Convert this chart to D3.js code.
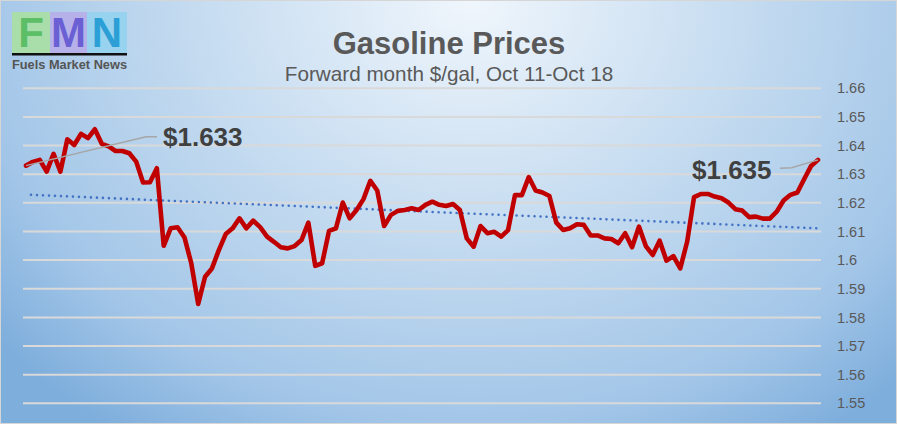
<!DOCTYPE html>
<html>
<head>
<meta charset="utf-8">
<script src="https://cdn.jsdelivr.net/npm/d3@7"></script>
<style>
  html, body { margin: 0; padding: 0; background: #fff; }
  svg { display: block; font-family: "Liberation Sans", Arial, sans-serif; }
</style>
</head>
<body>
<svg id="chart" width="897" height="424"></svg>
<script>
'use strict';

// forward month gasoline, $/gal
const prices = [
    1.633, 1.6343, 1.635, 1.6309, 1.6371, 1.6309, 1.6422, 1.6402, 1.6441, 1.6426,
    1.6457, 1.6406, 1.6397, 1.6381, 1.6381, 1.6373, 1.6344, 1.6271, 1.6272, 1.6321,
    1.605, 1.6111, 1.6115, 1.608, 1.5989, 1.5847, 1.5942, 1.5971, 1.6035, 1.6091,
    1.6111, 1.6146, 1.6111, 1.6138, 1.6115, 1.6082, 1.6064, 1.6045, 1.6041, 1.6049,
    1.607, 1.6131, 1.598, 1.5989, 1.6102, 1.6111, 1.6201, 1.6146, 1.6175, 1.6213,
    1.6277, 1.6243, 1.6119, 1.6158, 1.6172, 1.6175, 1.6181, 1.6175, 1.6193, 1.6204,
    1.6193, 1.6189, 1.6196, 1.6175, 1.6076, 1.6047, 1.6119, 1.6094, 1.6099, 1.6082,
    1.6105, 1.6227, 1.6227, 1.629, 1.6243, 1.6236, 1.6224, 1.6131, 1.6105, 1.6111,
    1.6125, 1.6123, 1.6086, 1.6086, 1.6076, 1.6074, 1.6059, 1.6094, 1.6045, 1.6117,
    1.6049, 1.6018, 1.6068, 1.5998, 1.6014, 1.5971, 1.6064, 1.622, 1.6231, 1.6231,
    1.6222, 1.6216, 1.6201, 1.6178, 1.6173, 1.615, 1.6152, 1.6145, 1.6145, 1.6169,
    1.6208, 1.6228, 1.6236, 1.6283, 1.6329, 1.635
];

// linear trendline, start and end values
const trendValues = [1.6228, 1.6111];

const yTicks = [1.55, 1.56, 1.57, 1.58, 1.59, 1.6, 1.61, 1.62, 1.63, 1.64, 1.65, 1.66];
const yTickLabels = ['1.55', '1.56', '1.57', '1.58', '1.59', '1.6', '1.61', '1.62', '1.63', '1.64', '1.65', '1.66'];

const endLabels = ['$1.633', '$1.635'];

const titleText = 'Gasoline Prices';
const subtitleText = 'Forward month $/gal, Oct 11-Oct 18';

const width = 897, height = 424;
const svg = d3.select('#chart');

// background gradient
const defs = svg.append('defs');
const grad = defs.append('radialGradient')
    .attr('id', 'bg')
    .attr('gradientUnits', 'userSpaceOnUse')
    .attr('cx', 470).attr('cy', 0)
    .attr('r', 620)
    .attr('gradientTransform', 'translate(470,0) scale(1,0.85) translate(-470,0)');
grad.append('stop').attr('offset', '0%').attr('stop-color', '#f0f6fc');
grad.append('stop').attr('offset', '45%').attr('stop-color', '#c4dbf0');
grad.append('stop').attr('offset', '80%').attr('stop-color', '#a3c6e8');
grad.append('stop').attr('offset', '100%').attr('stop-color', '#7eaedc');

svg.append('rect')
    .attr('x', 0.5).attr('y', 0.5)
    .attr('width', width - 1).attr('height', height - 1)
    .attr('fill', 'url(#bg)')
    .attr('stroke', '#d6d6d6');

// scales
const x = d3.scaleLinear().domain([0, prices.length - 1]).range([26, 818]);
const y = d3.scaleLinear().domain([1.55, 1.66]).range([403.3, 88.3]);

// gridlines
svg.append('g')
    .selectAll('line')
    .data(yTicks)
    .join('line')
    .attr('x1', 23).attr('x2', 821)
    .attr('y1', d => y(d)).attr('y2', d => y(d))
    .attr('stroke', '#d9d9d9')
    .attr('stroke-width', 2);

// right axis labels
const axis = d3.axisRight(y)
    .tickValues(yTicks)
    .tickFormat((d, i) => yTickLabels[i])
    .tickSize(0)
    .tickPadding(0);
const axisG = svg.append('g')
    .attr('transform', 'translate(837,0)')
    .call(axis);
axisG.select('.domain').remove();
axisG.selectAll('text')
    .attr('fill', '#595959')
    .style('font-size', '14.5px')
    .style('font-family', '"Liberation Sans", Arial, sans-serif');

// trendline
svg.append('line')
    .attr('x1', x(0) + 5).attr('x2', x(prices.length - 1))
    .attr('y1', y(trendValues[0])).attr('y2', y(trendValues[1]))
    .attr('stroke', '#4472c4')
    .attr('stroke-width', 2.6)
    .attr('stroke-linecap', 'round')
    .attr('stroke-dasharray', '0 6');

// price line
const line = d3.line()
    .x((d, i) => x(i))
    .y(d => y(d));

svg.append('path')
    .datum(prices)
    .attr('d', line)
    .attr('fill', 'none')
    .attr('stroke', '#c00000')
    .attr('stroke-width', 4.6)
    .attr('stroke-linejoin', 'round')
    .attr('stroke-linecap', 'round');

// data labels with leader lines
const last = prices.length - 1;
const leaderColor = '#a6a6a6';

svg.append('path')
    .attr('d', d3.line()([[x(0), y(prices[0])], [146, 136.7], [157, 136.7]]))
    .attr('fill', 'none')
    .attr('stroke', leaderColor)
    .attr('stroke-width', 1.5);

svg.append('path')
    .attr('d', d3.line()([[780, 168.3], [791.7, 167.7], [x(last), y(prices[last])]]))
    .attr('fill', 'none')
    .attr('stroke', leaderColor)
    .attr('stroke-width', 1.5);

svg.append('text')
    .attr('x', 163).attr('y', 146)
    .attr('fill', '#404040')
    .style('font-size', '26px')
    .style('font-weight', 'bold')
    .text(endLabels[0]);

svg.append('text')
    .attr('x', 692).attr('y', 179)
    .attr('fill', '#404040')
    .style('font-size', '26px')
    .style('font-weight', 'bold')
    .text(endLabels[1]);

// titles
svg.append('text')
    .attr('x', 449).attr('y', 54)
    .attr('text-anchor', 'middle')
    .attr('fill', '#595959')
    .style('font-size', '31px')
    .style('font-weight', 'bold')
    .text(titleText);

svg.append('text')
    .attr('x', 449).attr('y', 81)
    .attr('text-anchor', 'middle')
    .attr('fill', '#595959')
    .style('font-size', '20.7px')
    .text(subtitleText);

// FMN logo
const logo = svg.append('g').attr('transform', 'translate(12,12)');
const blocks = [
    {letter: 'F', bg: '#a9deaa', fg: '#5cbf68', x: 0, w: 38},
    {letter: 'M', bg: '#b7b1ea', fg: '#6b5fd4', x: 38, w: 37},
    {letter: 'N', bg: '#97d3ef', fg: '#2b9fd6', x: 75, w: 40}
];
blocks.forEach((b) => {
    logo.append('rect')
        .attr('x', b.x).attr('y', 0)
        .attr('width', b.w).attr('height', 41)
        .attr('fill', b.bg);
    logo.append('text')
        .attr('x', b.x + b.w / 2).attr('y', 35)
        .attr('text-anchor', 'middle')
        .attr('fill', b.fg)
        .style('font-size', '42px')
        .style('font-weight', 'bold')
        .text(b.letter);
});
logo.append('rect')
    .attr('x', 0).attr('y', 41)
    .attr('width', 115).attr('height', 2.5)
    .attr('fill', '#111');
logo.append('text')
    .attr('x', 0).attr('y', 57)
    .attr('textLength', 115)
    .attr('lengthAdjust', 'spacingAndGlyphs')
    .attr('fill', '#555')
    .style('font-size', '13px')
    .style('font-weight', 'bold')
    .text('Fuels Market News');
</script>
</body>
</html>
